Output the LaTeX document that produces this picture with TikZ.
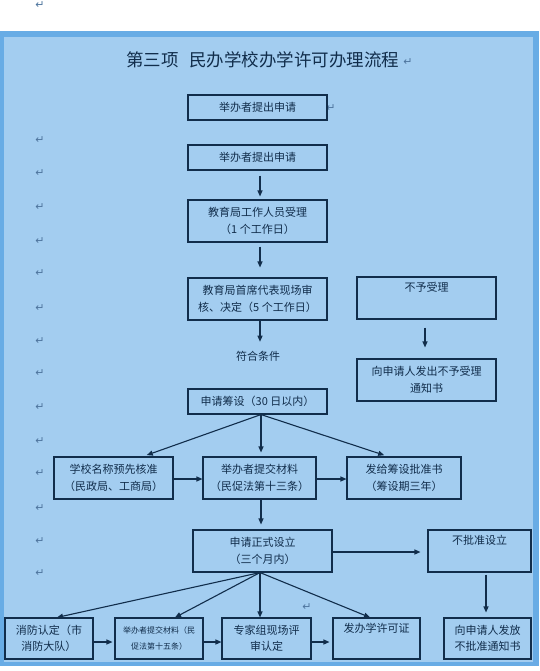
\documentclass[tikz,border=0pt]{standalone}
\usepackage{fontspec}
\setmainfont{Noto Sans CJK SC}
\newfontfamily\symfont{DejaVu Sans}
\usetikzlibrary{arrows.meta,calc}
\definecolor{frameblue}{HTML}{68ACE5}
\definecolor{paleblue}{HTML}{A3CDF0}
\definecolor{ink}{HTML}{112D4B}
\definecolor{retgrey}{HTML}{4E759E}
\tikzset{flow/.style={draw=ink,line width=1.1pt,align=center,inner sep=0pt,text=ink,font=\fontsize{11}{16.5}\selectfont}}
\tikzset{arr/.style={draw=ink,line width=1.1pt,-{Triangle[length=6pt,width=5pt]}}}
\tikzset{ret/.style={text=retgrey,inner sep=0pt,font=\symfont\fontsize{11}{11}\selectfont}}

\begin{document}
\begin{tikzpicture}[x=1pt,y=-1pt]
\useasboundingbox (0,0) rectangle (539,671);
\fill[white] (0,0) rectangle (539,671);
\fill[frameblue] (0,31) rectangle (539,666);
\fill[paleblue] (4,37) rectangle (533,662);
\node (title) at (262.5,60) [text=ink,font=\fontsize{17.5}{19}\selectfont] {第三项\hspace{0.6em}民办学校办学许可办理流程};
% paragraph marks
\node (t0) at (40,5) [ret] {↵};
\node (t1) at (408,62) [ret] {↵};
\node (t2) at (331,108) [ret] {↵};
\node (t3) at (307,607) [ret] {↵};
\foreach \y in {140,173,207,241,273,308,341,373,407,441,473,508,541,573}
  \node (r\y) at (40,\y) [ret] {↵};
% main column
\node (req1) at (257.5,107.5) [flow,minimum width=139,minimum height=25] {举办者提出申请};
\node (req2) at (257.5,157.5) [flow,minimum width=139,minimum height=25] {举办者提出申请};
\node (staff) at (257.5,221) [flow,minimum width=139,minimum height=42] {教育局工作人员受理\\（1 个工作日）};
\node (chief) at (257.5,299) [flow,minimum width=139,minimum height=42] {教育局首席代表现场审\\核、决定（5 个工作日）};
\node (ok) at (258,356) [text=ink,inner sep=0pt,font=\fontsize{11}{16.5}\selectfont] {符合条件};
\node (prep) at (257.5,401.5) [flow,minimum width=139,minimum height=25] {申请筹设（30 日以内）};
\node (rej) at (426.5,298) [flow,minimum width=139,minimum height=42] {不予受理\\\strut};
\node (rejn) at (426.5,380) [flow,minimum width=139,minimum height=42] {向申请人发出不予受理\\通知书};
\node (name) at (113.5,478) [flow,minimum width=119,minimum height=42] {学校名称预先核准\\（民政局、工商局）};
\node (mat) at (259.5,478) [flow,minimum width=113,minimum height=42] {举办者提交材料\\（民促法第十三条）};
\node (perm) at (404,478) [flow,minimum width=114,minimum height=42] {发给筹设批准书\\（筹设期三年）};
\node (form) at (262.5,551) [flow,minimum width=139,minimum height=42] {申请正式设立\\（三个月内）};
\node (deny) at (479.5,551) [flow,minimum width=103,minimum height=42] {不批准设立\\\strut};
\node (fire) at (49,638.5) [flow,minimum width=88,minimum height=41] {消防认定（市\\消防大队）};
\node (mat2) at (159,638.5) [flow,minimum width=88,minimum height=41,font=\fontsize{8}{16}\selectfont] {举办者提交材料（民\\促法第十五条）};
\node (exp) at (266.5,638.5) [flow,minimum width=89,minimum height=41] {专家组现场评\\审认定};
\node (lic) at (376.5,638.5) [flow,minimum width=87,minimum height=41] {发办学许可证\\\strut};
\node (denyn) at (487.5,638.5) [flow,minimum width=87,minimum height=41] {向申请人发放\\不批准通知书};
% connectors
\draw[arr,shorten <=5pt,shorten >=3pt] ([xshift=2.5pt]req2.south) -- ([xshift=2.5pt]staff.north);
\draw[arr,shorten <=4pt,shorten >=10pt] ([xshift=2.5pt]staff.south) -- ([xshift=2.5pt]chief.north);
\draw[arr,shorten >=9pt] ([xshift=2.5pt]chief.south) -- ([xshift=2.5pt]chief.south |- ok.north);
\draw[arr,shorten <=8pt,shorten >=11pt] ([xshift=-1.5pt]rej.south) -- ([xshift=-1.5pt]rejn.north);
\draw[arr,shorten >=4pt] ([xshift=3.5pt]prep.south) -- ([xshift=29.5pt]name.north);
\draw[arr,shorten >=4pt] ([xshift=3.5pt]prep.south) -- ([xshift=1.5pt]mat.north);
\draw[arr,shorten >=4pt] ([xshift=3.5pt]prep.south) -- ([xshift=-16pt]perm.north);
\draw[arr] ([yshift=-1pt]name.east) -- ([yshift=-1pt]mat.west);
\draw[arr] ([yshift=-1pt]mat.east) -- ([yshift=-1pt]perm.west);
\draw[arr,shorten >=5pt] ([xshift=1.5pt]mat.south) -- ([xshift=-1.5pt]form.north);
\draw[arr,shorten >=7pt] ([yshift=-1pt]form.east) -- ([yshift=-1pt]deny.west);
\draw[arr,shorten <=2pt,shorten >=5pt] ([xshift=6.5pt]deny.south) -- ([xshift=-1.5pt]denyn.north);
\draw[arr] ([xshift=-2.5pt]form.south) -- ([xshift=8pt]fire.north);
\draw[arr] ([xshift=-2.5pt]form.south) -- ([xshift=16pt]mat2.north);
\draw[arr] ([xshift=-2.5pt]form.south) -- ([xshift=-6.5pt]exp.north);
\draw[arr] ([xshift=-2.5pt]form.south) -- ([xshift=-6.5pt]lic.north);
\draw[arr,shorten >=2pt] ([yshift=-3.5pt]fire.east) -- ([yshift=-3.5pt]mat2.west);
\draw[arr] ([yshift=-3.5pt]mat2.east) -- ([yshift=-3.5pt]exp.west);
\draw[arr,shorten >=3pt] ([yshift=-3.5pt]exp.east) -- ([yshift=-3.5pt]lic.west);
\end{tikzpicture}
\end{document}
